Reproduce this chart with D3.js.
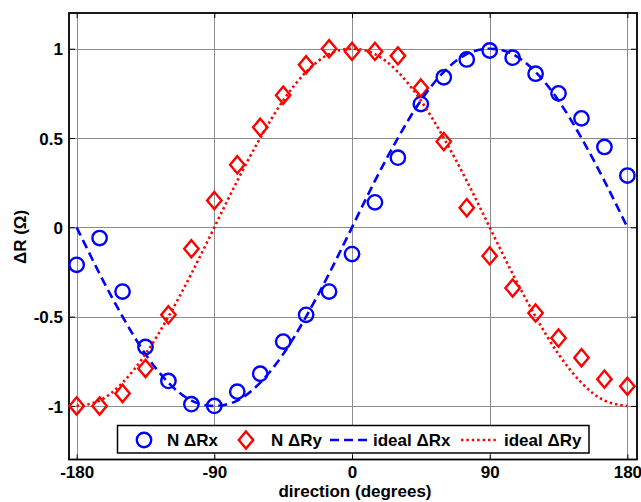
<!DOCTYPE html>
<html>
<head>
<meta charset="utf-8">
<script src="https://cdn.jsdelivr.net/npm/d3@7"></script>
<style>
  html, body { margin: 0; padding: 0; background: #fff; }
  svg text { font-family: "Liberation Sans", Arial, sans-serif; font-weight: bold; }
</style>
</head>
<body>
<svg id="chart" width="641" height="502"></svg>
<script>
// ---- data ----
const angles = [-180,-165,-150,-135,-120,-105,-90,-75,-60,-45,-30,-15,0,15,30,45,60,75,90,105,120,135,150,165,180];
const measuredRx = [-0.21,-0.06,-0.36,-0.67,-0.86,-0.99,-1.00,-0.92,-0.82,-0.64,-0.49,-0.36,-0.15,0.14,0.39,0.69,0.84,0.94,0.99,0.95,0.86,0.75,0.61,0.45,0.29];
const measuredRy = [-1.00,-1.00,-0.93,-0.79,-0.49,-0.12,0.15,0.35,0.56,0.74,0.91,1.00,0.985,0.985,0.96,0.78,0.48,0.11,-0.16,-0.34,-0.48,-0.62,-0.73,-0.85,-0.89];
const idealRx = [0,-0.26,-0.5,-0.71,-0.87,-0.97,-1,-0.97,-0.87,-0.71,-0.5,-0.26,0,0.26,0.5,0.71,0.87,0.97,1,0.97,0.87,0.71,0.5,0.26,0];
const idealRy = [-1,-0.97,-0.87,-0.71,-0.5,-0.26,0,0.26,0.5,0.71,0.87,0.97,1,0.97,0.87,0.71,0.5,0.26,0,-0.26,-0.5,-0.71,-0.87,-0.97,-1];
const xTicks = [-180,-90,0,90,180];
const xTickLabels = ["-180","-90","0","90","180"];
const yTicks = [-1,-0.5,0,0.5,1];
const yTickLabels = ["-1","-0.5","0","0.5","1"];
const legendLabels = ["N \u0394Rx","N \u0394Ry","ideal \u0394Rx","ideal \u0394Ry"];
const xLabel = "direction (degrees)";
const yLabel = "\u0394R (\u03A9)";

// ---- layout ----
const L = 69, T = 13, R = 637, B = 459.5;
const svg = d3.select("#chart");
const x = d3.scaleLinear().domain([-185, 186.3]).range([L, R]);
const y = d3.scaleLinear().domain([-1.3, 1.2]).range([B, T]);
const blue = "#0000ff", red = "#ff0000";

// grid
const grid = svg.append("g").attr("stroke", "#8c8c8c").attr("stroke-width", 1);
xTicks.forEach(t => grid.append("line").attr("x1", Math.round(x(t))+0.5).attr("x2", Math.round(x(t))+0.5).attr("y1", T).attr("y2", B));
yTicks.forEach(t => grid.append("line").attr("y1", Math.round(y(t))+0.5).attr("y2", Math.round(y(t))+0.5).attr("x1", L).attr("x2", R));

// axes via d3 axis (inward ticks)
const xAxisB = d3.axisBottom(x).tickValues(xTicks).tickSizeInner(-5).tickSizeOuter(0).tickPadding(6).tickFormat((d,i) => xTickLabels[i]);
const gxb = svg.append("g").attr("transform", `translate(0,${B})`).call(xAxisB);
gxb.select(".domain").remove();
gxb.selectAll("line").attr("stroke", "#000");
gxb.selectAll("text").attr("font-size", 17).attr("fill", "#000").attr("font-family", "Liberation Sans, Arial, sans-serif").attr("font-weight", "bold");

const xAxisT = d3.axisTop(x).tickValues(xTicks).tickSizeInner(-5).tickSizeOuter(0).tickFormat("");
const gxt = svg.append("g").attr("transform", `translate(0,${T})`).call(xAxisT);
gxt.select(".domain").remove();

const yAxisL = d3.axisLeft(y).tickValues(yTicks).tickSizeInner(-6).tickSizeOuter(0).tickPadding(6).tickFormat((d,i) => yTickLabels[i]);
const gyl = svg.append("g").attr("transform", `translate(${L},0)`).call(yAxisL);
gyl.select(".domain").remove();
gyl.selectAll("text").attr("font-size", 17).attr("fill", "#000").attr("font-family", "Liberation Sans, Arial, sans-serif").attr("font-weight", "bold").attr("dy", "0.36em");

const yAxisR = d3.axisRight(y).tickValues(yTicks).tickSizeInner(-6).tickSizeOuter(0).tickFormat("");
const gyr = svg.append("g").attr("transform", `translate(${R},0)`).call(yAxisR);
gyr.select(".domain").remove();

// box
svg.append("rect").attr("x", L).attr("y", T).attr("width", R-L).attr("height", B-T)
  .attr("fill", "none").attr("stroke", "#000").attr("stroke-width", 1.8);

const plot = svg.append("g");

// markers
plot.selectAll("circle.rx").data(angles).join("circle")
  .attr("cx", (d) => x(d)).attr("cy", (d,i) => y(measuredRx[i])).attr("r", 7.2)
  .attr("fill", "none").attr("stroke", blue).attr("stroke-width", 2.4);

const diamond = (cx, cy) => `M${cx},${cy-8.6}L${cx+7.2},${cy}L${cx},${cy+8.6}L${cx-7.2},${cy}Z`;
plot.selectAll("path.ry").data(angles).join("path")
  .attr("d", (d,i) => diamond(x(d), y(measuredRy[i])))
  .attr("fill", "none").attr("stroke", red).attr("stroke-width", 2.4).attr("stroke-linejoin", "miter");

// ideal lines
const line = d3.line().x(d => x(d[0])).y(d => y(d[1])).curve(d3.curveNatural);
plot.append("path").datum(angles.map((a,i) => [a, idealRx[i]]))
  .attr("d", line).attr("fill", "none").attr("stroke", blue).attr("stroke-width", 2.6)
  .attr("stroke-dasharray", "9,5");
plot.append("path").datum(angles.map((a,i) => [a, idealRy[i]]))
  .attr("d", line).attr("fill", "none").attr("stroke", red).attr("stroke-width", 2.6)
  .attr("stroke-dasharray", "2.4,3");

// axis labels
svg.append("text").attr("x", (L+R)/2 + 2).attr("y", 497).attr("text-anchor", "middle")
  .attr("font-size", 17).attr("fill", "#000").text(xLabel);
svg.append("text").attr("transform", "translate(26,237) rotate(-90)").attr("text-anchor", "middle")
  .attr("font-size", 17).attr("fill", "#000").text(yLabel);

// legend
const lg = svg.append("g");
lg.append("rect").attr("x", 117.5).attr("y", 425.5).attr("width", 471.5).attr("height", 27.5)
  .attr("fill", "#fff").attr("stroke", "#000").attr("stroke-width", 1.5);
const ly = 440;
lg.append("circle").attr("cx", 144).attr("cy", ly).attr("r", 7.2).attr("fill", "none").attr("stroke", blue).attr("stroke-width", 2.4);
lg.append("text").attr("x", 167).attr("y", ly + 6).attr("font-size", 17).attr("fill", "#000").text(legendLabels[0]);
lg.append("path").attr("d", diamond(246, ly)).attr("fill", "none").attr("stroke", red).attr("stroke-width", 2.4);
lg.append("text").attr("x", 271).attr("y", ly + 6).attr("font-size", 17).attr("fill", "#000").text(legendLabels[1]);
lg.append("line").attr("x1", 330).attr("x2", 367).attr("y1", ly).attr("y2", ly).attr("stroke", blue).attr("stroke-width", 2.6).attr("stroke-dasharray", "9,5");
lg.append("text").attr("x", 373).attr("y", ly + 6).attr("font-size", 17).attr("fill", "#000").text(legendLabels[2]);
lg.append("line").attr("x1", 461).attr("x2", 497).attr("y1", ly).attr("y2", ly).attr("stroke", red).attr("stroke-width", 2.6).attr("stroke-dasharray", "2.4,3");
lg.append("text").attr("x", 504).attr("y", ly + 6).attr("font-size", 17).attr("fill", "#000").text(legendLabels[3]);
</script>
</body>
</html>
